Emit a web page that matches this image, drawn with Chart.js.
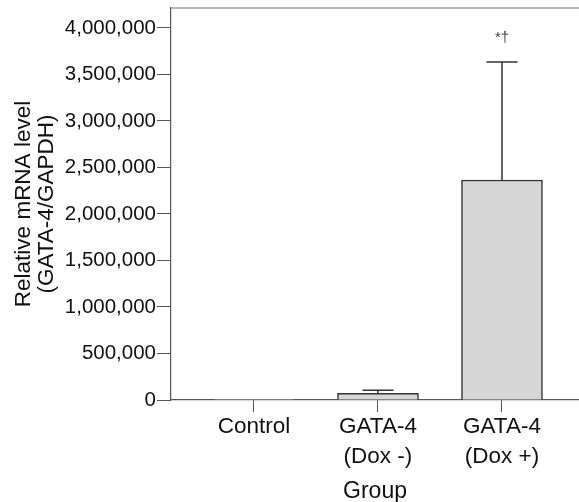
<!DOCTYPE html>
<html>
<head>
<meta charset="utf-8">
<script src="https://cdn.jsdelivr.net/npm/chart.js@4.4.1/dist/chart.umd.min.js"></script>
<style>
  html, body { margin: 0; padding: 0; background: #fff; overflow: hidden; }
  #wrap { width: 579px; height: 502px; }
</style>
</head>
<body>
<div id="wrap"><canvas id="myChart" width="579" height="502"></canvas></div>
<script>
// chart data
const groups = [["Control"], ["GATA-4", "(Dox -)"], ["GATA-4", "(Dox +)"]];
const meanValues = [1, 72000, 2366000];
const sdValues = [0, 33000, 1268000];
const marks = ["", "", "*\u2020"];
const yTicks = [0, 500000, 1000000, 1500000, 2000000, 2500000, 3000000, 3500000, 4000000];
const xTicks = [0, 1, 2];

const fontFamily = "'Liberation Sans', Arial, sans-serif";

// error bars + significance marks, placed with the chart's own scales
const errorBars = {
  id: "errorBars",
  afterDatasetsDraw(chart) {
    const c = chart.ctx;
    const x = chart.scales.x;
    const y = chart.scales.y;
    c.save();
    c.strokeStyle = "#333";
    c.lineWidth = 1.5;
    meanValues.forEach((m, i) => {
      if (!sdValues[i]) return;
      const px = x.getPixelForValue(i);
      const top = y.getPixelForValue(m + sdValues[i]);
      const base = y.getPixelForValue(m);
      c.beginPath();
      c.moveTo(px, base);
      c.lineTo(px, top);
      c.moveTo(px - 15.5, top);
      c.lineTo(px + 15.5, top);
      c.stroke();
    });
    c.fillStyle = "#444";
    c.font = "15px " + fontFamily;
    c.textAlign = "center";
    c.textBaseline = "middle";
    marks.forEach((t, i) => {
      if (!t) return;
      const px = x.getPixelForValue(i);
      const top = y.getPixelForValue(meanValues[i] + sdValues[i]);
      c.fillText(t, px, top - 24);
    });
    // top frame line
    const a = chart.chartArea;
    c.strokeStyle = "#777";
    c.lineWidth = 1.2;
    c.beginPath();
    c.moveTo(a.left, a.top);
    c.lineTo(a.right, a.top);
    c.stroke();
    c.restore();
  },
};

const ctx = document.getElementById("myChart");

new Chart(ctx, {
  type: "bar",
  data: {
    datasets: [
      {
        data: meanValues.map((v, i) => ({ x: i, y: v })),
        backgroundColor: "#d6d6d6",
        borderColor: "#333",
        borderWidth: 1.5,
        borderSkipped: "bottom",
        barThickness: 81,
      },
    ],
  },
  options: {
    responsive: false,
    animation: false,
    layout: { padding: { top: 8, right: 0, left: 0, bottom: 0 } },
    scales: {
      x: {
        type: "linear",
        offset: false,
        min: -0.669,
        max: 2.621,
        afterBuildTicks: (scale) => {
          scale.ticks = xTicks.map((v) => ({ value: v }));
        },
        afterFit: (scale) => {
          scale.height = 102;
          scale.paddingLeft = 0;
          scale.paddingRight = 0;
        },
        grid: {
          offset: false,
          drawOnChartArea: false,
          drawTicks: true,
          tickLength: 12,
          color: "#555",
        },
        border: { color: "#555", width: 1.2 },
        ticks: {
          autoSkip: false,
          maxRotation: 0,
          padding: 0,
          color: "#111",
          font: { size: 22.5, family: fontFamily, lineHeight: 1.333 },
          callback: function (value) {
            return groups[value];
          },
        },
        title: {
          display: true,
          text: "Group",
          color: "#111",
          font: { size: 23, family: fontFamily, lineHeight: 0.9 },
          padding: 0,
        },
      },
      y: {
        min: 0,
        max: 4215000,
        afterBuildTicks: (scale) => {
          scale.ticks = yTicks.map((v) => ({ value: v }));
        },
        afterFit: (scale) => {
          scale.width = 171;
          scale.paddingTop = 0;
          scale.paddingBottom = 0;
        },
        grid: {
          drawOnChartArea: false,
          drawTicks: true,
          tickLength: 14,
          color: "#555",
        },
        border: { color: "#555", width: 1.2 },
        ticks: {
          padding: 1,
          color: "#111",
          font: { size: 20.5, family: fontFamily },
          callback: function (value) {
            return value.toLocaleString("en-US");
          },
        },
        title: {
          display: true,
          text: ["Relative mRNA level", "(GATA-4/GAPDH)"],
          color: "#111",
          font: { size: 22.5, family: fontFamily, lineHeight: 1.02 },
          padding: { top: 12.5, bottom: 0 },
        },
      },
    },
    plugins: {
      legend: { display: false },
      tooltip: { enabled: false },
    },
  },
  plugins: [errorBars],
});
</script>
</body>
</html>
